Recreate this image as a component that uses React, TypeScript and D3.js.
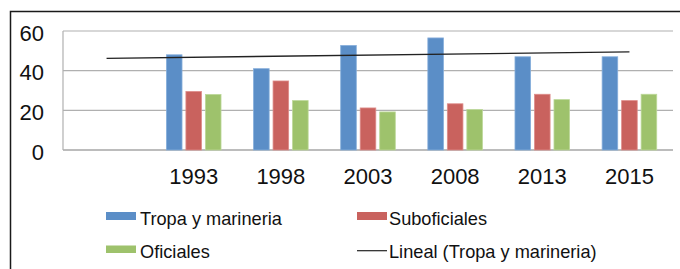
import React from "react";
import * as d3 from "d3";

const categories = ["", "1993", "1998", "2003", "2008", "2013", "2015"];
const years = ["1993", "1998", "2003", "2008", "2013", "2015"];
const tropa = [48, 41, 52.7, 56.5, 47, 47];
const suboficiales = [29.5, 34.8, 21.2, 23.3, 28.1, 24.9];
const oficiales = [28, 24.9, 19.2, 20.4, 25.4, 28.1];
const yTicks = [0, 20, 40, 60];
// linear trend of "Tropa y marineria", first and last category
const trendCats = ["", "2015"];
const trendValues = [46.2, 49.5];

const series = [
  { name: "Tropa y marineria", values: tropa, color: "#5b8ec7", edge: "#86aedb" },
  { name: "Suboficiales", values: suboficiales, color: "#c9625e", edge: "#de8d8a" },
  { name: "Oficiales", values: oficiales, color: "#9ec26c", edge: "#bcd899" },
];

const W = 680;
const H = 269;
const font = "'Liberation Sans', Arial, sans-serif";

export default function App() {
  const x = d3.scaleBand().domain(categories).range([63, 673]);
  const bw = x.bandwidth();
  const step = 19.5;
  const x1 = d3
    .scaleBand()
    .domain(series.map((s) => s.name))
    .range([bw / 2 - 1.4 * step, bw / 2 + 1.4 * step])
    .paddingInner(0.2);
  const y = d3.scaleLinear().domain([0, 60]).range([150, 31]);

  const trend = d3
    .line<number>()
    .x((_, i) => (x(trendCats[i]) as number) + bw / 2)
    .y((d) => y(d));

  return (
    <svg
      width={W}
      height={H}
      style={{ position: "absolute", left: 0, top: 0, background: "#fff" }}
      fontFamily={font}
    >
      {/* frame */}
      <path d={`M10.5,${H} V11.5 H${W}`} fill="none" stroke="#1a1a1a" strokeWidth={1.5} />

      {/* grid */}
      {yTicks.map((t) => (
        <g key={t}>
          <line
            x1={63}
            x2={673}
            y1={y(t)}
            y2={y(t)}
            stroke={t === 0 ? "#a6a6a6" : "#b0b0b0"}
            strokeWidth={t === 0 ? 1.6 : 1.2}
          />
          <text x={44} y={y(t) + 9.5} textAnchor="end" fontSize={22} fill="#111">
            {t}
          </text>
        </g>
      ))}
      <line x1={63} x2={63} y1={y(60)} y2={y(0)} stroke="#b0b0b0" strokeWidth={1.2} />

      {/* bars */}
      {series.map((s) =>
        s.values.map((v, i) => {
          const bx = (x(years[i]) as number) + (x1(s.name) as number);
          return (
            <rect
              key={s.name + i}
              x={bx}
              y={y(v)}
              width={x1.bandwidth()}
              height={y(0) - y(v)}
              fill={s.color}
              stroke={s.edge}
              strokeWidth={0.8}
            />
          );
        })
      )}

      {/* trend line */}
      <path d={trend(trendValues) || ""} fill="none" stroke="#222" strokeWidth={1.3} />

      {/* category labels */}
      {years.map((c) => (
        <text key={c} x={(x(c) as number) + bw / 2} y={184} textAnchor="middle" fontSize={22} fill="#111">
          {c}
        </text>
      ))}

      {/* legend */}
      <g fontSize={18.2} fill="#111">
        <rect x={106} y={212} width={30} height={8} fill={series[0].color} />
        <text x={140} y={225}>{series[0].name}</text>
        <rect x={357} y={212} width={30} height={8} fill={series[1].color} />
        <text x={389} y={225}>{series[1].name}</text>
        <rect x={106} y={245.5} width={30} height={7.5} fill={series[2].color} />
        <text x={140} y={258}>{series[2].name}</text>
        <line x1={357} x2={387} y1={250.7} y2={250.7} stroke="#222" strokeWidth={1.2} />
        <text x={389} y={258}>Lineal (Tropa y marineria)</text>
      </g>
    </svg>
  );
}
